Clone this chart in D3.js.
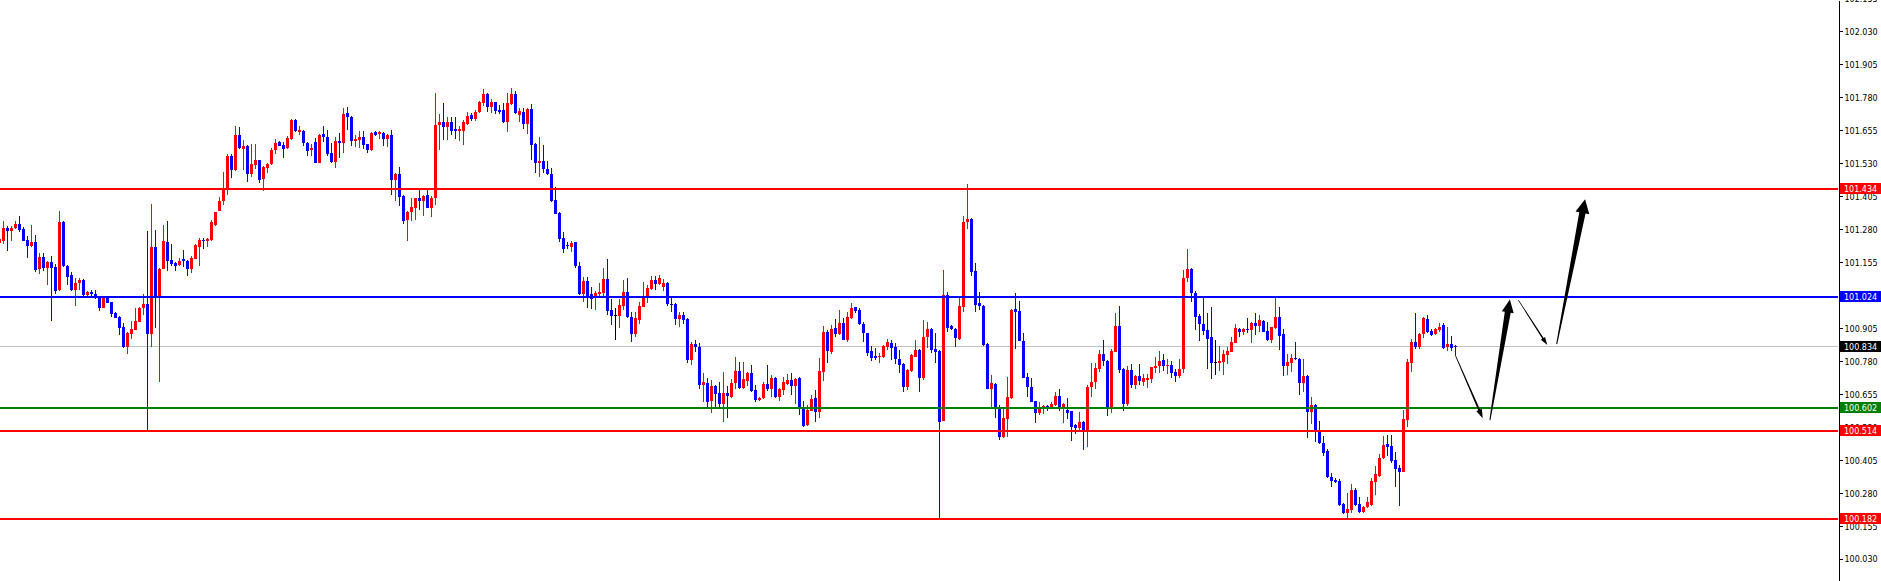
<!DOCTYPE html>
<html><head><meta charset="utf-8">
<script src="https://cdn.jsdelivr.net/npm/d3@7"></script>
<style>html,body{margin:0;padding:0;background:#fff;overflow:hidden}svg{display:block}</style>
</head><body>
<svg id="chart" width="1881" height="581"></svg>
<script>
// ---- DATA ----
const barOpen = [
101.229,101.234,101.284,101.275,101.283,101.301,101.282,101.240,101.215,101.232,
101.129,101.175,101.135,101.155,101.136,101.050,101.308,101.142,101.107,101.049,
101.078,101.088,101.032,101.042,101.035,101.021,100.983,101.021,101.004,100.964,
100.949,100.909,100.835,100.885,100.899,100.930,100.981,100.997,100.885,101.213,
101.024,101.130,101.232,101.164,101.153,101.145,101.168,101.160,101.131,101.169,
101.213,101.241,101.237,101.240,101.297,101.350,101.386,101.436,101.558,101.503,
101.638,101.585,101.596,101.490,101.524,101.541,101.470,101.514,101.527,101.581,
101.609,101.600,101.588,101.622,101.695,101.648,101.654,101.607,101.579,101.612,
101.533,101.642,101.629,101.569,101.536,101.615,101.607,101.720,101.705,101.613,
101.619,101.629,101.603,101.579,101.647,101.642,101.645,101.622,101.638,101.465,
101.490,101.407,101.316,101.346,101.362,101.397,101.389,101.409,101.362,101.398,
101.676,101.685,101.666,101.685,101.660,101.651,101.654,101.679,101.714,101.698,
101.723,101.758,101.794,101.742,101.761,101.733,101.733,101.685,101.754,101.794,
101.714,101.726,101.679,101.736,101.603,101.533,101.539,101.510,101.490,101.392,
101.343,101.246,101.221,101.211,101.230,101.141,101.034,101.084,101.034,101.023,
101.035,101.040,101.092,100.974,100.954,100.953,100.990,101.043,100.949,100.883,
100.937,100.987,101.020,101.055,101.086,101.073,101.061,101.077,100.997,100.997,
100.940,100.955,100.940,100.785,100.846,100.835,100.690,100.699,100.631,100.686,
100.661,100.618,100.661,100.646,100.697,100.743,100.680,100.706,100.734,100.671,
100.633,100.640,100.694,100.675,100.717,100.646,100.671,100.694,100.709,100.687,
100.717,100.608,100.538,100.593,100.640,100.589,100.741,100.891,100.814,100.905,
100.883,100.924,100.861,100.945,100.986,100.974,100.920,100.886,100.819,100.800,
100.795,100.797,100.835,100.850,100.835,100.788,100.770,100.684,100.743,100.797,
100.823,100.718,100.871,100.902,100.825,100.819,100.555,101.031,100.914,100.902,
100.863,100.987,101.309,101.320,101.122,100.999,100.991,100.846,100.675,100.694,
100.608,100.494,100.561,100.640,100.977,100.971,100.857,100.722,100.684,100.629,
100.585,100.602,100.610,100.604,100.614,100.648,100.602,100.595,100.591,100.538,
100.526,100.551,100.513,100.681,100.700,100.750,100.808,100.781,100.602,100.816,
100.914,100.751,100.618,100.747,100.690,100.724,100.703,100.709,100.713,100.756,
100.760,100.785,100.760,100.766,100.741,100.724,100.751,101.095,101.130,101.038,
100.952,100.920,100.899,100.871,100.776,100.775,100.778,100.804,100.816,100.850,
100.902,100.892,100.902,100.900,100.924,100.914,100.934,100.895,100.861,100.905,
100.947,100.883,100.760,100.775,100.794,100.789,100.697,100.724,100.589,100.614,
100.513,100.471,100.440,100.340,100.330,100.327,100.238,100.204,100.216,100.292,
100.239,100.210,100.226,100.235,100.323,100.345,100.412,100.466,100.459,100.406,
100.374,100.361,100.557,100.775,100.854,100.835,100.883,100.940,100.896,100.883,
100.899,100.918,100.835,100.844,100.838
];
const barHigh = [
101.251,101.312,101.291,101.291,101.312,101.329,101.288,101.255,101.297,101.259,
101.189,101.192,101.158,101.179,101.148,101.350,101.313,101.145,101.117,101.096,
101.097,101.092,101.046,101.050,101.050,101.024,101.027,101.027,101.006,100.968,
100.952,100.925,100.889,100.933,100.982,100.987,101.035,101.275,101.374,101.278,
101.133,101.297,101.312,101.225,101.156,101.170,101.201,101.162,101.177,101.224,
101.246,101.246,101.246,101.316,101.347,101.402,101.499,101.566,101.566,101.672,
101.667,101.619,101.598,101.604,101.604,101.543,101.518,101.531,101.588,101.622,
101.615,101.609,101.632,101.698,101.698,101.670,101.657,101.609,101.604,101.627,
101.642,101.670,101.657,101.607,101.629,101.645,101.739,101.745,101.710,101.638,
101.653,101.653,101.605,101.647,101.651,101.651,101.647,101.642,101.657,101.495,
101.516,101.411,101.351,101.400,101.400,101.432,101.411,101.432,101.407,101.798,
101.718,101.757,101.705,101.705,101.705,101.670,101.695,101.726,101.720,101.733,
101.768,101.811,101.798,101.773,101.764,101.752,101.758,101.796,101.816,101.805,
101.739,101.739,101.739,101.756,101.607,101.629,101.599,101.537,101.512,101.440,
101.347,101.268,101.230,101.234,101.232,101.157,101.098,101.101,101.061,101.047,
101.076,101.133,101.168,101.015,100.981,101.017,101.086,101.097,100.966,100.966,
101.006,101.080,101.067,101.103,101.103,101.107,101.091,101.079,101.019,100.999,
100.968,100.966,100.943,100.854,100.861,100.848,100.737,100.716,100.709,100.690,
100.703,100.741,100.686,100.712,100.797,100.777,100.777,100.741,100.766,100.690,
100.646,100.700,100.766,100.728,100.719,100.680,100.719,100.732,100.734,100.717,
100.722,100.631,100.614,100.652,100.671,100.791,100.914,100.899,100.918,100.939,
100.974,100.943,100.968,101.000,100.987,100.983,100.930,100.888,100.838,100.829,
100.810,100.842,100.864,100.861,100.850,100.823,100.772,100.749,100.808,100.861,
100.825,100.937,100.928,100.905,100.886,100.821,101.126,101.044,100.916,100.904,
101.019,101.331,101.452,101.322,101.154,101.044,100.993,100.848,100.728,100.696,
100.614,100.608,100.722,100.976,101.038,101.010,100.886,100.737,100.716,100.631,
100.627,100.614,100.614,100.627,100.665,100.675,100.621,100.640,100.593,100.542,
100.589,100.555,100.690,100.775,100.772,100.823,100.861,100.783,100.825,100.962,
100.990,100.753,100.762,100.770,100.726,100.770,100.731,100.731,100.759,100.795,
100.819,100.808,100.788,100.782,100.750,100.789,101.126,101.206,101.135,101.048,
100.958,101.021,100.964,100.985,100.861,100.838,100.823,100.832,100.873,100.921,
100.905,100.907,100.943,100.930,100.962,100.955,100.937,100.930,100.911,101.019,
100.985,100.902,100.806,100.806,100.852,100.791,100.789,100.728,100.646,100.618,
100.554,100.497,100.446,100.355,100.336,100.333,100.241,100.282,100.315,100.298,
100.264,100.231,100.267,100.339,100.383,100.428,100.497,100.501,100.501,100.437,
100.387,100.595,100.788,100.863,100.964,100.886,100.949,100.955,100.902,100.905,
100.924,100.924,100.909,100.876,100.842
];
const barLow = [
101.225,101.225,101.199,101.237,101.281,101.268,101.235,101.173,101.212,101.120,
101.112,101.123,101.069,100.931,101.034,101.048,101.136,101.070,101.047,100.991,
101.050,101.028,101.025,101.022,101.015,100.972,100.981,100.999,100.949,100.943,
100.880,100.830,100.809,100.863,100.897,100.928,100.955,100.514,100.832,100.904,
100.703,101.128,101.121,101.139,101.121,101.139,101.137,101.103,101.114,101.167,
101.141,101.205,101.211,101.237,101.293,101.348,101.373,101.411,101.476,101.501,
101.586,101.505,101.461,101.480,101.508,101.455,101.427,101.493,101.524,101.566,
101.594,101.552,101.586,101.619,101.647,101.638,101.594,101.556,101.556,101.532,
101.531,101.609,101.556,101.531,101.514,101.552,101.569,101.657,101.596,101.591,
101.588,101.584,101.571,101.577,101.634,101.623,101.596,101.590,101.411,101.388,
101.370,101.299,101.237,101.312,101.316,101.354,101.332,101.360,101.328,101.373,
101.579,101.619,101.619,101.638,101.624,101.616,101.601,101.676,101.691,101.689,
101.720,101.748,101.723,101.720,101.718,101.718,101.682,101.647,101.752,101.717,
101.685,101.661,101.642,101.541,101.493,101.480,101.493,101.486,101.385,101.337,
101.230,101.192,101.206,101.195,101.135,101.030,101.006,100.983,100.979,100.974,
101.019,101.025,100.956,100.918,100.861,100.904,100.974,100.943,100.851,100.873,
100.920,100.985,101.002,101.050,101.050,101.069,101.048,100.990,100.968,100.918,
100.911,100.921,100.772,100.766,100.816,100.674,100.627,100.602,100.585,100.608,
100.602,100.551,100.564,100.640,100.674,100.674,100.674,100.686,100.662,100.627,
100.631,100.636,100.667,100.646,100.642,100.631,100.652,100.690,100.652,100.618,
100.576,100.532,100.536,100.591,100.551,100.566,100.706,100.772,100.808,100.873,
100.880,100.859,100.851,100.940,100.964,100.918,100.854,100.801,100.782,100.785,
100.775,100.791,100.823,100.785,100.770,100.737,100.665,100.671,100.738,100.795,
100.665,100.709,100.829,100.810,100.775,100.182,100.553,100.892,100.899,100.835,
100.861,100.968,101.281,101.103,100.968,100.974,100.838,100.673,100.606,100.564,
100.482,100.488,100.494,100.638,100.825,100.855,100.716,100.646,100.624,100.547,
100.576,100.579,100.593,100.598,100.612,100.592,100.547,100.560,100.478,100.504,
100.513,100.444,100.456,100.643,100.675,100.741,100.760,100.574,100.583,100.814,
100.737,100.593,100.612,100.678,100.674,100.690,100.686,100.680,100.697,100.737,
100.737,100.743,100.732,100.718,100.703,100.716,100.734,101.082,101.006,100.899,
100.858,100.880,100.751,100.713,100.728,100.744,100.728,100.770,100.814,100.848,
100.873,100.880,100.888,100.850,100.880,100.892,100.890,100.858,100.850,100.903,
100.823,100.725,100.728,100.741,100.785,100.652,100.665,100.488,100.542,100.473,
100.465,100.421,100.336,100.304,100.320,100.231,100.201,100.185,100.204,100.231,
100.204,100.206,100.222,100.233,100.273,100.342,100.410,100.421,100.395,100.304,
100.231,100.359,100.532,100.741,100.825,100.825,100.867,100.888,100.876,100.880,
100.892,100.825,100.820,100.820,100.804
];
const barClose = [
101.244,101.284,101.275,101.286,101.301,101.278,101.237,101.215,101.232,101.126,
101.175,101.135,101.156,101.132,101.047,101.308,101.139,101.101,101.050,101.077,
101.088,101.031,101.042,101.036,101.019,100.983,101.021,101.002,100.960,100.945,
100.907,100.834,100.887,100.902,100.932,100.983,100.997,100.885,101.213,101.024,
101.130,101.234,101.160,101.150,101.141,101.160,101.159,101.130,101.172,101.221,
101.240,101.237,101.245,101.306,101.344,101.388,101.436,101.558,101.503,101.638,
101.588,101.596,101.490,101.528,101.543,101.467,101.516,101.528,101.581,101.607,
101.596,101.584,101.626,101.695,101.654,101.657,101.607,101.575,101.589,101.533,
101.638,101.629,101.566,101.536,101.615,101.607,101.718,101.705,101.613,101.623,
101.629,101.600,101.579,101.645,101.638,101.647,101.622,101.638,101.465,101.490,
101.404,101.312,101.347,101.366,101.397,101.389,101.407,101.362,101.400,101.676,
101.685,101.666,101.685,101.654,101.651,101.660,101.687,101.710,101.699,101.726,
101.764,101.794,101.742,101.761,101.730,101.726,101.685,101.758,101.794,101.720,
101.730,101.679,101.736,101.600,101.533,101.539,101.508,101.490,101.388,101.339,
101.245,101.207,101.215,101.227,101.139,101.034,101.084,101.028,101.015,101.038,
101.043,101.092,100.972,100.952,100.954,100.993,101.043,100.947,100.883,100.944,
100.990,101.023,101.058,101.088,101.073,101.095,101.077,100.997,100.993,100.940,
100.955,100.937,100.785,100.846,100.833,100.690,100.701,100.626,100.686,100.656,
100.618,100.661,100.648,100.699,100.743,100.680,100.713,100.734,100.667,100.633,
100.642,100.694,100.675,100.717,100.646,100.675,100.703,100.709,100.687,100.713,
100.602,100.535,100.595,100.637,100.589,100.743,100.891,100.820,100.902,100.883,
100.924,100.861,100.947,100.982,100.972,100.920,100.886,100.813,100.794,100.791,
100.801,100.838,100.854,100.831,100.788,100.766,100.684,100.747,100.804,100.823,
100.718,100.871,100.901,100.823,100.816,100.551,101.031,100.907,100.901,100.867,
100.990,101.307,101.320,101.120,100.993,100.990,100.842,100.675,100.699,100.606,
100.494,100.566,100.646,100.974,100.968,100.857,100.718,100.681,100.627,100.583,
100.604,100.610,100.604,100.618,100.648,100.602,100.618,100.583,100.532,100.526,
100.551,100.513,100.681,100.700,100.753,100.808,100.781,100.602,100.819,100.914,
100.747,100.618,100.747,100.690,100.724,100.706,100.716,100.718,100.757,100.763,
100.781,100.760,100.766,100.737,100.724,100.751,101.095,101.129,101.038,100.949,
100.920,100.895,100.865,100.775,100.776,100.781,100.808,100.819,100.852,100.907,
100.892,100.902,100.900,100.924,100.914,100.937,100.892,100.861,100.909,100.947,
100.877,100.760,100.776,100.794,100.789,100.697,100.724,100.589,100.614,100.513,
100.469,100.433,100.340,100.327,100.323,100.235,100.204,100.219,100.292,100.235,
100.210,100.226,100.245,100.327,100.353,100.412,100.463,100.456,100.403,100.370,
100.361,100.560,100.778,100.854,100.835,100.883,100.943,100.892,100.880,100.901,
100.909,100.829,100.846,100.829,100.834
];
const tickValues = [102.155,102.030,101.905,101.780,101.655,101.530,101.405,101.280,101.155,
  101.030,100.905,100.780,100.655,100.530,100.405,100.280,100.155,100.030];
const levelPrices = [101.434, 101.024, 100.834, 100.602, 100.514, 100.182];
// forecast arrows: bar index / price of tail and tip
const arrowFromBar   = [363.95, 372.6, 379.7, 389.3];
const arrowFromPrice = [100.803, 100.557, 101.012, 100.845];
const arrowToBar     = [370.8, 377.6, 386.95, 396.4];
const arrowToPrice   = [100.564, 101.014, 100.841, 101.394];

// ---- STYLE ----
const W = 1881, H = 581, plotRight = 1838;
const upColor = '#ff0000', downColor = '#0000ff', dojiColor = '#000000';
const levelLine = ['#ff0000', '#0000ff', '#c0c0c0', '#008000', '#ff0000', '#ff0000'];
const levelBox  = ['#ff0000', '#0000ff', '#000000', '#008000', '#ff0000', '#ff0000'];
const levelWidth = [2, 2, 1, 2, 2, 2];
const arrowStyle = [ // headLen, headHalf, shaftHalfAtHead, tailHalf
  [9, 3, 1.0, 0.4], [13, 6, 3.0, 0.5], [8, 2.5, 0.8, 0.3], [14, 7, 3.2, 0.5]
];
const fontFamily = '"DejaVu Sans", Tahoma, sans-serif';

const svg = d3.select('#chart');
const x = d3.scaleLinear().domain([0, 1]).range([-0.5, 3.5]);   // 4 px per bar
const y = d3.scaleLinear().domain([99.947, 102.149]).range([H, 0]);
const fmt = d3.format('.3f');

const bars = d3.range(barOpen.length).map(i => ({
  i, o: barOpen[i], h: barHigh[i], l: barLow[i], c: barClose[i]
}));
const col = d => d.c > d.o ? upColor : (d.c < d.o ? downColor : dojiColor);

// bid line (behind candles)
const gBg = svg.append('g').attr('shape-rendering', 'crispEdges');
levelPrices.forEach((p, k) => {
  if (levelWidth[k] !== 1) return;
  gBg.append('rect').attr('x', 0).attr('width', plotRight)
    .attr('y', Math.round(y(p)) - 1).attr('height', 1).attr('fill', levelLine[k]);
});

// candles
const gC = svg.append('g').attr('shape-rendering', 'crispEdges');
gC.selectAll('rect.wick').data(bars).join('rect').attr('class', 'wick')
  .attr('x', d => Math.floor(x(d.i)))
  .attr('width', 1)
  .attr('y', d => Math.round(y(d.h)))
  .attr('height', d => Math.max(1, Math.round(y(d.l)) - Math.round(y(d.h))))
  .attr('fill', col);
gC.selectAll('rect.body').data(bars).join('rect').attr('class', 'body')
  .attr('x', d => Math.floor(x(d.i)) - 1)
  .attr('width', 3)
  .attr('y', d => Math.round(y(Math.max(d.o, d.c))))
  .attr('height', d => Math.max(1, Math.round(y(Math.min(d.o, d.c))) - Math.round(y(Math.max(d.o, d.c)))))
  .attr('fill', col);

// level lines (on top)
const gL = svg.append('g').attr('shape-rendering', 'crispEdges');
levelPrices.forEach((p, k) => {
  if (levelWidth[k] === 1) return;
  gL.append('rect').attr('x', 0).attr('width', plotRight)
    .attr('y', Math.round(y(p)) - 1).attr('height', levelWidth[k]).attr('fill', levelLine[k]);
});

// arrows
const gA = svg.append('g');
arrowFromBar.forEach((b, k) => {
  const tx = x(b), ty = y(arrowFromPrice[k]);
  const px = x(arrowToBar[k]), py = y(arrowToPrice[k]);
  const [L, hw, sw, tw] = arrowStyle[k];
  const dx = px - tx, dy = py - ty, len = Math.hypot(dx, dy);
  const ux = dx / len, uy = dy / len, nx = -uy, ny = ux;
  const bx = px - ux * L, by = py - uy * L;
  const pts = [
    [tx + nx * tw, ty + ny * tw], [bx + nx * sw, by + ny * sw], [bx + nx * hw, by + ny * hw],
    [px, py],
    [bx - nx * hw, by - ny * hw], [bx - nx * sw, by - ny * sw], [tx - nx * tw, ty - ny * tw]
  ];
  gA.append('polygon').attr('points', pts.map(p => p.join(',')).join(' ')).attr('fill', '#000');
});

// price axis
const axis = d3.axisRight(y).tickValues(tickValues).tickFormat(fmt)
  .tickSize(4).tickSizeOuter(0).tickPadding(2);
const gAx = svg.append('g').attr('transform', `translate(${plotRight + 0.5},0)`)
  .attr('shape-rendering', 'crispEdges').call(axis);
gAx.select('.domain').attr('stroke', '#000');
gAx.selectAll('.tick line').attr('stroke', '#000');
gAx.selectAll('.tick text').attr('fill', '#000').attr('font-family', fontFamily)
  .attr('font-size', 8).attr('dy', '0.36em');

// level price labels
const gT = svg.append('g');
levelPrices.forEach((p, k) => {
  const yy = Math.round(y(p));
  gT.append('rect').attr('x', plotRight + 2).attr('width', W - plotRight - 2)
    .attr('y', yy - 6).attr('height', 11).attr('fill', levelBox[k]).attr('shape-rendering', 'crispEdges');
  gT.append('text').attr('x', plotRight + 6).attr('y', yy).attr('dy', '0.36em')
    .attr('font-family', fontFamily).attr('font-size', 8).attr('fill', '#fff').text(fmt(p));
});
</script>
</body></html>
